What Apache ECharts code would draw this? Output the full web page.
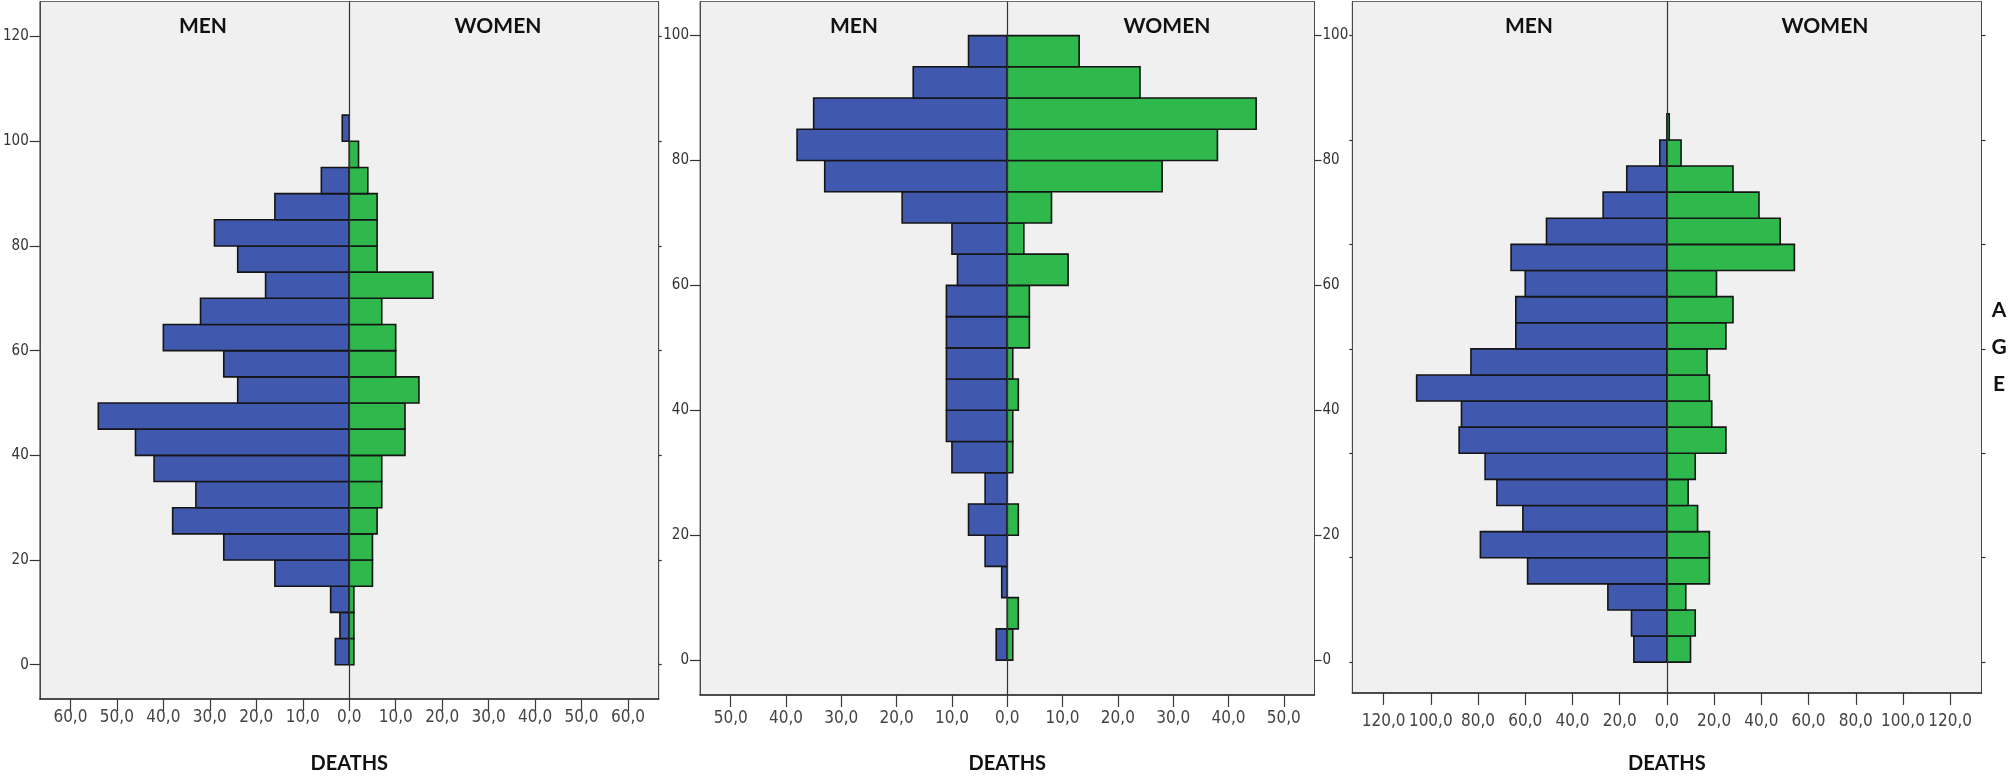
<!DOCTYPE html>
<html><head><meta charset="utf-8">
<script src="https://cdn.jsdelivr.net/npm/echarts@6/dist/echarts.min.js"></script>
<style>html,body{margin:0;padding:0;background:#fff}#c{width:2008px;height:779px}</style>
</head><body><div id="c"></div>
<script>
// ---- data ----
const binWidth = 5;
const ages1 = [0,5,10,15,20,25,30,35,40,45,50,55,60,65,70,75,80,85,90,95,100];
const men1   = [3,2,4,16,27,38,33,42,46,54,24,27,40,32,18,24,29,16,6,0,1.5];
const women1 = [1,1,1,5,5,6,7,7,12,12,15,10,10,7,18,6,6,6,4,2,0];

const ages2 = [0,5,10,15,20,25,30,35,40,45,50,55,60,65,70,75,80,85,90,95];
const men2   = [2,0,1,4,7,4,10,11,11,11,11,11,9,10,19,33,38,35,17,7];
const women2 = [1,2,0,0,2,0,1,1,2,1,4,4,11,3,8,28,38,45,24,13];

const ages3 = [0,5,10,15,20,25,30,35,40,45,50,55,60,65,70,75,80,85,90,95,100];
const men3   = [14,15,25,59,79,61,72,77,88,87,106,83,64,64,60,66,51,27,17,3,0];
const women3 = [10,12,8,18,18,13,9,12,25,19,18,17,25,28,21,54,48,39,28,6,1];

const xTicks1 = [-60,-50,-40,-30,-20,-10,0,10,20,30,40,50,60];
const xTicks2 = [-50,-40,-30,-20,-10,0,10,20,30,40,50];
const xTicks3 = [-120,-100,-80,-60,-40,-20,0,20,40,60,80,100,120];
const yTicks1 = [0,20,40,60,80,100,120];
const yTicks2 = [0,20,40,60,80,100];
const yTicks3 = [0,20,40,60,80,100,120];

const panelTitles = ['MEN','WOMEN'];
const xName = 'DEATHS';
const yName = 'AGE';

// ---- style ----
const BLUE = '#4058ad', GREEN = '#2fb84b';
const narrow = '"Liberation Sans Narrow","DejaVu Sans Condensed",sans-serif';
const boldFont = 'Lato, "Open Sans", sans-serif';

const fmtX = v => Math.abs(v).toFixed(1).replace('.', ',');

const grids = [
  {left:31.6, top:1.5, width:627.1, height:700.2},
  {left:700, top:1.5, width:614.5, height:695.2},
  {left:1352.3, top:1.5, width:629.2, height:695.2}
].map(g => Object.assign({show:true, backgroundColor:'#f0f0f0', borderColor:'#6a6a6a', borderWidth:1}, g));

function xAxisCfg(gi, ext, ticks, labelMargin, nameGap) {
  return {
    type:'value', gridIndex:gi, min:-ext, max:ext, position:'bottom',
    axisLine:{show:true, onZero:false, lineStyle:{color:'#2a2a2a', width:1.5}},
    axisTick:{show:true, inside:false, length:12, customValues:ticks, lineStyle:{color:'#3a3a3a', width:1.2}},
    axisLabel:{show:true, customValues:ticks, formatter:fmtX, margin:labelMargin,
      fontFamily:narrow, fontSize:17, color:'#444'},
    splitLine:{show:false},
    name:xName, nameLocation:'middle', nameGap:nameGap,
    nameTextStyle:{fontFamily:boldFont, fontWeight:'bold', fontSize:20, color:'#111'}
  };
}
function yAxisCfg(gi, min, max, ticks, pos, showLabels, tickLen, labelMargin) {
  return {
    type:'value', gridIndex:gi, min:min, max:max, position:pos,
    axisLine:{show:true, onZero:false, lineStyle:{color:'#4a4a4a', width:1}},
    axisTick:{show:true, inside:false, length:tickLen, customValues:ticks, lineStyle:{color:'#333', width:1.2}},
    axisLabel:{show:showLabels, customValues:ticks, margin:labelMargin,
      fontFamily:narrow, fontSize:15, color:'#333'},
    splitLine:{show:false}
  };
}

const xAxes = [
  xAxisCfg(0, 66.6, xTicks1, 10, 55),
  xAxisCfg(1, 55.55, xTicks2, 15, 59),
  xAxisCfg(2, 133.25, xTicks3, 20, 61)
];
const yAxes = [
  yAxisCfg(0, -6.546, 126.70, yTicks1, 'left', true, 10, 11),
  yAxisCfg(0, -6.546, 126.70, yTicks1, 'right', false, 3, 5),
  yAxisCfg(1, -5.59, 105.46, yTicks2, 'left', true, 10, 11),
  yAxisCfg(1, -5.59, 105.46, yTicks2, 'right', true, 7, 8),
  yAxisCfg(2, -5.905, 126.51, yTicks3, 'left', false, 3, 5),
  yAxisCfg(2, -5.905, 126.51, yTicks3, 'right', false, 4, 5)
];

function renderBar(params, api) {
  const v = api.value(0), a = api.value(1);
  const p0 = api.coord([0, a]);
  const p1 = api.coord([v, a + binWidth]);
  return {
    type:'rect',
    shape:{x:Math.min(p0[0],p1[0]), y:Math.min(p0[1],p1[1]),
           width:Math.abs(p1[0]-p0[0]), height:Math.abs(p1[1]-p0[1])},
    style:{fill:api.visual('color'), stroke:'#151515', lineWidth:1.6}
  };
}
function barSeries(gi, yi, ages, vals, sign, color, withCenter) {
  const s = {
    type:'custom', xAxisIndex:gi, yAxisIndex:yi, renderItem:renderBar,
    itemStyle:{color:color}, silent:true, z:2,
    encode:{x:0, y:1},
    data: ages.map((a,i)=>[sign*vals[i], a]).filter(d=>d[0]!==0)
  };
  if (withCenter) {
    s.markLine = {silent:true, symbol:'none', label:{show:false}, z:5,
      lineStyle:{color:'#333', width:1.2, type:'solid'}, data:[{xAxis:0}]};
  }
  return s;
}

const series = [
  barSeries(0, 0, ages1, men1, -1, BLUE, false),
  barSeries(0, 0, ages1, women1, 1, GREEN, true),
  barSeries(1, 2, ages2, men2, -1, BLUE, false),
  barSeries(1, 2, ages2, women2, 1, GREEN, true),
  barSeries(2, 4, ages3, men3, -1, BLUE, false),
  barSeries(2, 4, ages3, women3, 1, GREEN, true)
];

const titlePos = [[203,26.7],[498,26.7],[854,26.7],[1167,26.7],[1529,26.7],[1825,26.7]];
const graphic = titlePos.map((p,i)=>({
  type:'text', x:p[0], y:p[1], z:10,
  style:{text:panelTitles[i%2], font:'bold 21px ' + boldFont, fill:'#111', align:'center', verticalAlign:'middle'}
}));
graphic.push({type:'text', x:1999, y:347, z:10,
  style:{text:yName.split('').join('\n'), font:'bold 21px ' + boldFont, lineHeight:37, fill:'#111', align:'center', verticalAlign:'middle'}});

const chart = echarts.init(document.getElementById('c'), null, {renderer:'canvas'});
chart.setOption({
  animation:false,
  backgroundColor:'#ffffff',
  grid:grids, xAxis:xAxes, yAxis:yAxes, series:series, graphic:graphic
});
</script></body></html>
